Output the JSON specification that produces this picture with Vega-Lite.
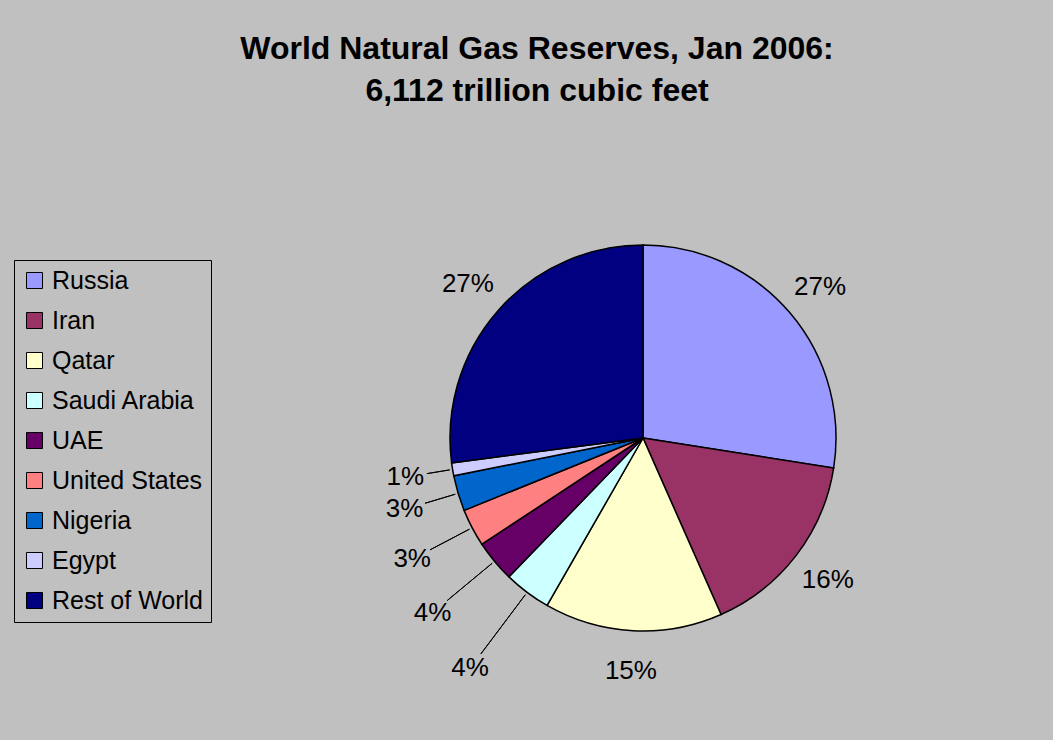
{
  "$schema": "https://vega.github.io/schema/vega-lite/v6.json",
  "width": 386,
  "height": 386,
  "autosize": "none",
  "padding": {"left": 450, "top": 245, "right": 217, "bottom": 109},
  "background": "#C0C0C0",
  "config": {"view": {"stroke": null}, "font": "Liberation Sans"},
  "title": {
    "text": ["World Natural Gas Reserves, Jan 2006:", "6,112 trillion cubic feet"],
    "fontSize": 32,
    "fontWeight": "bold",
    "font": "Liberation Sans",
    "color": "black",
    "lineHeight": 42,
    "anchor": "middle",
    "dx": -106,
    "offset": 134
  },
  "data": {
    "values": [
      {"order": 1, "country": "Russia", "value": 1680},
      {"order": 2, "country": "Iran", "value": 971},
      {"order": 3, "country": "Qatar", "value": 911},
      {"order": 4, "country": "Saudi Arabia", "value": 241},
      {"order": 5, "country": "UAE", "value": 214},
      {"order": 6, "country": "United States", "value": 193},
      {"order": 7, "country": "Nigeria", "value": 182},
      {"order": 8, "country": "Egypt", "value": 66},
      {"order": 9, "country": "Rest of World", "value": 1654}
    ]
  },
  "transform": [
    {"window": [{"op": "sum", "field": "value", "as": "cum"}], "sort": [{"field": "order"}], "frame": [null, 0]},
    {"joinaggregate": [{"op": "sum", "field": "value", "as": "total"}]},
    {"calculate": "datum.cum - datum.value", "as": "start"},
    {"calculate": "datum.cum - datum.value / 2", "as": "mid"},
    {"calculate": "datum.value / datum.total", "as": "share"}
  ],
  "resolve": {"scale": {"radius": "independent"}},
  "layer": [
    {
      "mark": {"type": "arc", "stroke": "black", "strokeWidth": 1.5},
      "encoding": {
        "theta": {"field": "start", "type": "quantitative", "stack": null, "scale": {"domain": [0, 6112], "range": [0, 6.283185307179586]}},
        "theta2": {"field": "cum"},
        "color": {
          "field": "country",
          "type": "nominal",
          "scale": {
            "domain": ["Russia", "Iran", "Qatar", "Saudi Arabia", "UAE", "United States", "Nigeria", "Egypt", "Rest of World"],
            "range": ["#9999FF", "#993366", "#FFFFCC", "#CCFFFF", "#660066", "#FF8080", "#0066CC", "#CCCCFF", "#000080"]
          },
          "legend": {
            "orient": "none",
            "legendX": -436,
            "legendY": 15,
            "title": null,
            "padding": 8,
            "rowPadding": 14,
            "strokeColor": "black",
            "fillColor": "#C0C0C0",
            "labelFontSize": 25,
            "labelFont": "Liberation Sans",
            "labelColor": "black",
            "labelOffset": 5,
            "labelLimit": 300,
            "symbolType": "square",
            "symbolSize": 256,
            "symbolStrokeColor": "black",
            "symbolStrokeWidth": 1,
            "symbolOpacity": 1
          }
        }
      }
    },
    {
      "transform": [{"filter": "datum.share < 0.05"}],
      "mark": {"type": "arc", "radius2": 196, "stroke": "black", "strokeWidth": 1, "filled": false},
      "encoding": {
        "theta": {"field": "mid", "type": "quantitative", "stack": null},
        "theta2": {"field": "mid"},
        "radius": {"field": "mid", "type": "quantitative", "scale": {"type": "linear", "zero": false, "nice": false, "range": [270, 219]}}
      }
    },
    {
      "transform": [{"filter": "datum.share >= 0.05"}],
      "mark": {"type": "text", "radius": 233, "fontSize": 26, "font": "Liberation Sans", "color": "black"},
      "encoding": {
        "theta": {"field": "mid", "type": "quantitative", "stack": null},
        "text": {"field": "share", "type": "quantitative", "format": ".0%"}
      }
    },
    {
      "transform": [{"filter": "datum.share < 0.05"}],
      "mark": {"type": "text", "fontSize": 26, "font": "Liberation Sans", "color": "black"},
      "encoding": {
        "theta": {"field": "mid", "type": "quantitative", "stack": null},
        "radius": {"field": "mid", "type": "quantitative", "scale": {"type": "linear", "zero": false, "nice": false, "range": [288, 241]}},
        "text": {"field": "share", "type": "quantitative", "format": ".0%"}
      }
    }
  ]
}
